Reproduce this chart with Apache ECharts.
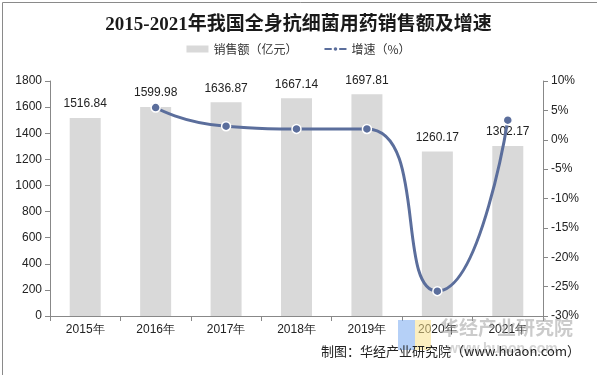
<!DOCTYPE html>
<html><head><meta charset="utf-8">
<script src="https://cdn.jsdelivr.net/npm/echarts@6/dist/echarts.min.js"></script>
<style>html,body{margin:0;padding:0;background:#fff}#c{width:597px;height:375px}</style>
</head><body><div id="c"></div>
<script>
var categories = ['2015年','2016年','2017年','2018年','2019年','2020年','2021年'];
var sales = [1516.84, 1599.98, 1636.87, 1667.14, 1697.81, 1260.17, 1302.17];
var growth = [null, 5.48, 2.31, 1.85, 1.84, -25.77, 3.33];
var leftTicks = {min: 0, max: 1800, interval: 200};
var rightTicks = {min: -30, max: 10, interval: 5};

var chart = echarts.init(document.getElementById('c'), null, {renderer: 'canvas'});
var font = '"Liberation Sans", Arial, sans-serif';
chart.setOption({
  animation: false,
  backgroundColor: '#fff',
  title: {
    text: '2015-2021年我国全身抗细菌用药销售额及增速',
    left: 'center', top: 11,
    textStyle: {fontFamily: '"Liberation Serif", "Noto Sans CJK SC"', fontWeight: 'bold', fontSize: 19, color: '#1a1a1a'}
  },
  legend: {
    top: 38, left: 'center', itemGap: 26, itemWidth: 22, itemHeight: 7,
    textStyle: {fontFamily: '"Noto Sans CJK SC"', fontSize: 12, color: '#333'},
    data: [
      {name: '销售额（亿元）', icon: 'rect'},
      {name: '增速（%）'}
    ]
  },
  grid: {left: 50, right: 54, top: 81, bottom: 59},
  xAxis: {
    type: 'category', data: categories,
    axisLine: {lineStyle: {color: '#888'}},
    axisTick: {show: true, alignWithLabel: false, lineStyle: {color: '#888'}},
    axisLabel: {color: '#222', fontFamily: font, fontSize: 12, margin: 8}
  },
  yAxis: [
    {type: 'value', min: leftTicks.min, max: leftTicks.max, interval: leftTicks.interval,
     axisLine: {show: true, lineStyle: {color: '#888'}},
     axisTick: {show: true, lineStyle: {color: '#888'}},
     splitLine: {show: false},
     axisLabel: {color: '#222', fontFamily: font, fontSize: 12, margin: 8,
                 formatter: function (v) { return String(v); }}},
    {type: 'value', min: rightTicks.min, max: rightTicks.max, interval: rightTicks.interval,
     axisLine: {show: true, lineStyle: {color: '#888'}},
     axisTick: {show: true, lineStyle: {color: '#888'}},
     splitLine: {show: false},
     axisLabel: {color: '#222', fontFamily: font, fontSize: 12, margin: 8, formatter: '{value}%'}}
  ],
  series: [
    {name: '销售额（亿元）', type: 'bar', data: sales, barWidth: 31,
     itemStyle: {color: '#d9d9d9'},
     label: {show: true, position: 'top', distance: 8, color: '#222', fontFamily: font, fontSize: 12}},
    {name: '增速（%）', type: 'line', yAxisIndex: 1, data: growth, smooth: 0.6,
     symbol: 'circle', symbolSize: 9, z: 5,
     lineStyle: {color: '#5b6e9c', width: 3},
     itemStyle: {color: '#5b6e9c', borderColor: '#fff', borderWidth: 1.5}}
  ],
  graphic: [
    {type: 'rect', left: 0, top: 0, shape: {width: 596, height: 374},
     style: {fill: 'none', stroke: '#8a8a8a', lineWidth: 1}, z: 100},
    {type: 'rect', left: 398, top: 320, shape: {width: 17, height: 30},
     style: {fill: 'rgba(120,170,240,0.55)'}, z: 1},
    {type: 'rect', left: 415, top: 320, shape: {width: 16, height: 30},
     style: {fill: 'rgba(250,225,140,0.55)'}, z: 1},
    {type: 'text', left: 440, top: 318,
     style: {text: '华经产业研究院', fill: 'rgba(160,160,160,0.55)', font: 'bold 19px "Noto Sans CJK SC"'}, z: 1},
    {type: 'text', left: 447, top: 342,
     style: {text: 'www.huaon.com', fill: 'rgba(170,170,170,0.5)', font: 'bold 14px "Liberation Sans"'}, z: 1},
    {type: 'text', right: 17, top: 345,
     style: {text: '制图：华经产业研究院（www.huaon.com）', fill: '#222', font: '13px "Noto Sans CJK SC"'}, z: 10}
  ]
});
</script>
</body></html>
